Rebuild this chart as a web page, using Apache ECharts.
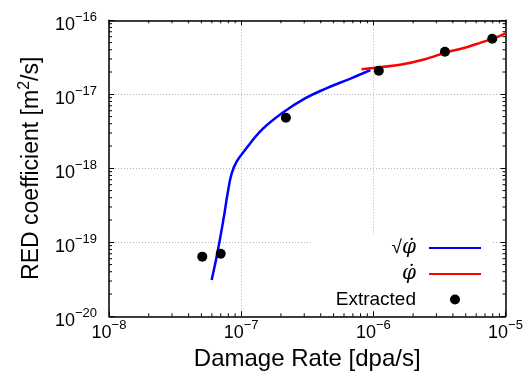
<!DOCTYPE html>
<html>
<head>
<meta charset="utf-8">
<script src="https://cdn.jsdelivr.net/npm/echarts@6/dist/echarts.min.js"></script>
<style>html,body{margin:0;padding:0;background:#fff}#c{width:527px;height:380px}</style>
</head>
<body>
<div id="c"></div>
<script>
// ---- data ----
const sqrtPhiX = [5.98e-8, 6.59e-8, 7.33e-8, 7.98e-8, 8.47e-8, 9.24e-8, 1.07e-7, 1.43e-7, 2.02e-7, 3.04e-7, 4.4e-7, 6.65e-7, 9.5e-7];
const sqrtPhiY = [3.1e-20, 7.0e-20, 2.0e-19, 5.1e-19, 8.5e-19, 1.23e-18, 1.77e-18, 3.3e-18, 5.5e-18, 8.8e-18, 1.2e-17, 1.62e-17, 2.12e-17];
const phiX = [8.15e-7, 1e-6, 1.59e-6, 2.5e-6, 3.48e-6, 5e-6, 6.5e-6, 7.94e-6, 1e-5];
const phiY = [2.18e-17, 2.27e-17, 2.5e-17, 3.0e-17, 3.65e-17, 4.3e-17, 5.0e-17, 5.6e-17, 6.67e-17];
const extractedX = [5.08e-8, 7.0e-8, 2.18e-7, 1.10e-6, 3.48e-6, 7.94e-6];
const extractedY = [6.4e-20, 7.0e-20, 4.83e-18, 2.08e-17, 3.76e-17, 5.64e-17];
const seriesNames = ['√φ̇', 'φ̇', 'Extracted'];
const xTickExp = ['−8', '−7', '−6', '−5'];
const yTickExp = ['−20', '−19', '−18', '−17', '−16'];
const X_MIN = 1e-8, X_MAX = 1e-5, Y_MIN = 1e-20, Y_MAX = 1e-16;
const xMinor = [2e-8,3e-8,4e-8,5e-8,6e-8,7e-8,8e-8,9e-8,2e-7,3e-7,4e-7,5e-7,6e-7,7e-7,8e-7,9e-7,2e-6,3e-6,4e-6,5e-6,6e-6,7e-6,8e-6,9e-6];
const yMinor = [2e-20,3e-20,4e-20,5e-20,6e-20,7e-20,8e-20,9e-20,2e-19,3e-19,4e-19,5e-19,6e-19,7e-19,8e-19,9e-19,2e-18,3e-18,4e-18,5e-18,6e-18,7e-18,8e-18,9e-18,2e-17,3e-17,4e-17,5e-17,6e-17,7e-17,8e-17,9e-17];

const FONT = 'Liberation Sans';
const zip = (a, b) => a.map((v, i) => [v, b[i]]);
const supRich = {
  b: { fontFamily: FONT, fontSize: 18, lineHeight: 18, padding: [10, 0, 0, 0], color: '#000' },
  e: { fontFamily: FONT, fontSize: 13, lineHeight: 14, verticalAlign: 'top', color: '#000' }
};

const chart = echarts.init(document.getElementById('c'), null, { renderer: 'canvas' });
const axisLineStyle = { color: '#000', width: 1.5 };
const gridStyle = { color: '#b4b4b4', type: [1, 2], width: 1 };
const option = {
  animation: false,
  backgroundColor: '#fff',
  grid: { left: 109, right: 21.5, top: 20.3, bottom: 63.7, containLabel: false },
  xAxis: [{
    type: 'log', logBase: 10, min: X_MIN, max: X_MAX, splitNumber: 3,
    position: 'bottom',
    axisLine: { show: true, lineStyle: axisLineStyle },
    axisTick: { show: true, inside: true, length: 5, lineStyle: { color: '#000', width: 1 } },
    splitLine: { show: true, lineStyle: gridStyle },
    axisLabel: { margin: 3, formatter: (v, i) => '{b|10}{e|' + xTickExp[Math.round(Math.log10(v)) + 8] + '}', rich: supRich },
    name: 'Damage Rate [dpa/s]', nameLocation: 'middle', nameGap: 30,
    nameTextStyle: { fontFamily: FONT, fontSize: 24, color: '#000' }
  }, {
    type: 'log', logBase: 10, min: X_MIN, max: X_MAX, splitNumber: 3,
    position: 'top',
    axisLine: { show: true, lineStyle: axisLineStyle },
    axisTick: { show: true, inside: true, length: 5, lineStyle: { color: '#000', width: 1 } },
    splitLine: { show: false }, axisLabel: { show: false }
  }],
  yAxis: [{
    type: 'log', logBase: 10, min: Y_MIN, max: Y_MAX, splitNumber: 4,
    position: 'left',
    axisLine: { show: true, lineStyle: axisLineStyle },
    axisTick: { show: true, inside: true, length: 5, lineStyle: { color: '#000', width: 1 } },
    splitLine: { show: true, lineStyle: gridStyle },
    axisLabel: { margin: 12, formatter: (v, i) => '{b|10}{e|' + yTickExp[Math.round(Math.log10(v)) + 20] + '}', rich: supRich },
    name: '{a|RED coefficient [m}{s|2}{a|/s]}', nameLocation: 'middle', nameGap: 69,
    nameTextStyle: {
      rich: {
        a: { fontFamily: FONT, fontSize: 23, lineHeight: 23, padding: [6, 0, 0, 0], color: '#000' },
        s: { fontFamily: FONT, fontSize: 16, lineHeight: 16, verticalAlign: 'top', color: '#000' }
      }
    }
  }, {
    type: 'log', logBase: 10, min: Y_MIN, max: Y_MAX, splitNumber: 4,
    position: 'right',
    axisLine: { show: true, lineStyle: axisLineStyle },
    axisTick: { show: true, inside: true, length: 5, lineStyle: { color: '#000', width: 1 } },
    splitLine: { show: false }, axisLabel: { show: false }
  }],
  legend: {
    data: [
      { name: seriesNames[0], itemStyle: { opacity: 0 } },
      { name: seriesNames[1], itemStyle: { opacity: 0 } },
      { name: seriesNames[2] }
    ],
    orient: 'vertical', align: 'right',
    right: 34, top: 234,
    padding: [4, 11, 1, 25],
    itemWidth: 52, itemHeight: 10, itemGap: 6,
    backgroundColor: '#fff',
    selectedMode: false,
    formatter: (name) => name === seriesNames[0] ? '{r|√}{i|φ̇}' : name === seriesNames[1] ? '{i|φ̇}' : '{t|' + name + '}',
    textStyle: {
      padding: [0, 8, 0, 0],
      rich: {
        t: { fontFamily: FONT, fontSize: 19, lineHeight: 20, color: '#000' },
        r: { fontFamily: FONT, fontSize: 19, lineHeight: 20, color: '#000' },
        i: { fontFamily: 'DejaVu Serif', fontStyle: 'italic', fontSize: 20, lineHeight: 20, color: '#000' }
      }
    }
  },
  series: [
    {
      name: seriesNames[0], type: 'line', data: zip(sqrtPhiX, sqrtPhiY),
      showSymbol: false, symbol: 'none', smooth: 0.4,
      lineStyle: { color: '#0000ff', width: 2.5 }, itemStyle: { color: '#0000ff' }, z: 3
    },
    {
      name: seriesNames[1], type: 'line', data: zip(phiX, phiY),
      showSymbol: false, symbol: 'none', smooth: 0.3,
      lineStyle: { color: '#ff0000', width: 2.5 }, itemStyle: { color: '#ff0000' }, z: 3
    },
    {
      name: seriesNames[2], type: 'scatter', data: zip(extractedX, extractedY),
      symbol: 'circle', symbolSize: 10, itemStyle: { color: '#000', opacity: 1 }, z: 4
    },
    {
      name: 'xminor', type: 'custom', silent: true, clip: false,
      data: xMinor.map(v => [v, Y_MIN]),
      renderItem: (params, api) => {
        const b = api.coord([api.value(0), Y_MIN]);
        const t = api.coord([api.value(0), Y_MAX]);
        return { type: 'group', children: [
          { type: 'line', shape: { x1: b[0], y1: b[1], x2: b[0], y2: b[1] - 3 }, style: { stroke: '#000', lineWidth: 1 } },
          { type: 'line', shape: { x1: t[0], y1: t[1], x2: t[0], y2: t[1] + 3 }, style: { stroke: '#000', lineWidth: 1 } }
        ] };
      }
    },
    {
      name: 'yminor', type: 'custom', silent: true, clip: false,
      data: yMinor.map(v => [X_MIN, v]),
      renderItem: (params, api) => {
        const l = api.coord([X_MIN, api.value(1)]);
        const r = api.coord([X_MAX, api.value(1)]);
        return { type: 'group', children: [
          { type: 'line', shape: { x1: l[0], y1: l[1], x2: l[0] + 3, y2: l[1] }, style: { stroke: '#000', lineWidth: 1 } },
          { type: 'line', shape: { x1: r[0], y1: r[1], x2: r[0] - 3, y2: r[1] }, style: { stroke: '#000', lineWidth: 1 } }
        ] };
      }
    }
  ]
};
chart.setOption(option);
</script>
</body>
</html>
